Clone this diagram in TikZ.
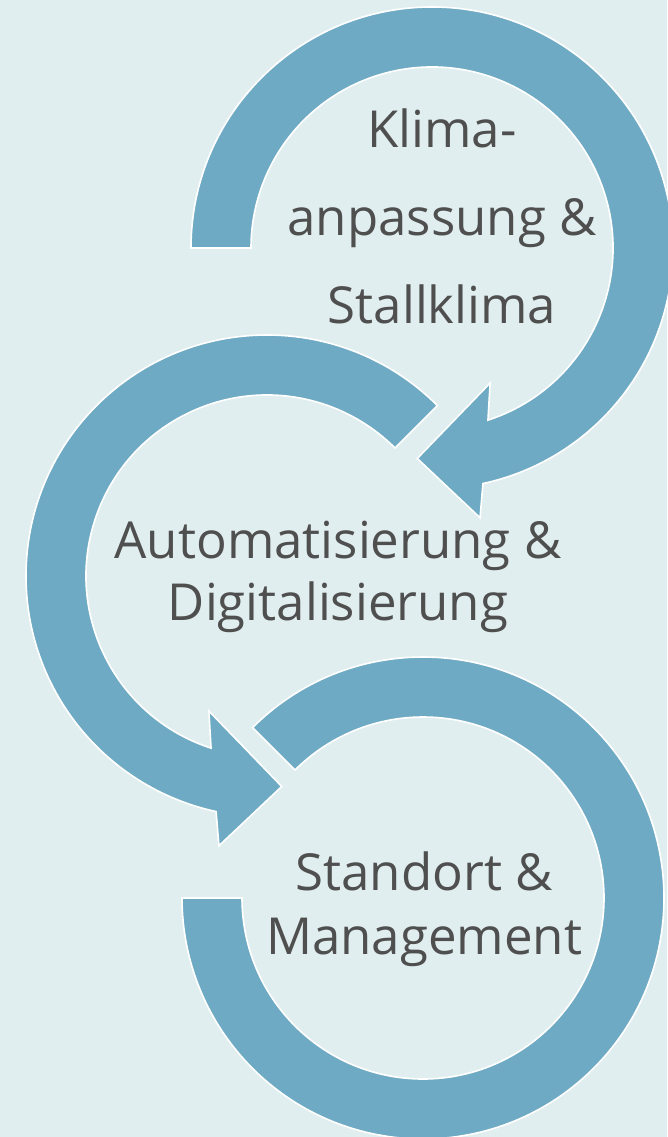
\documentclass[tikz,border=0pt]{standalone}
\usepackage{fontspec}
\setmainfont{Open Sans}
\usepackage{tikz}
\definecolor{paneblue}{HTML}{E1EEF0}
\definecolor{ringblue}{HTML}{6EAAC3}
\definecolor{textgray}{HTML}{4F4F4F}

\begin{document}
\begin{tikzpicture}[x=1pt, y=1pt,
    ring/.style = {fill=ringblue, draw=white, line width=1.6pt, line join=miter},
    caption/.style = {text=textgray, align=center, inner sep=0, anchor=base}]
  \fill[paneblue] (0, 0) rectangle (667, -1137);
  \useasboundingbox (0, 0) rectangle (667, -1137);

  % top arrow, clockwise with head at the bottom
  \begin{scope}[shift={(432, -248)}]
    \draw[ring] (180:241) arc[start angle=180, end angle=-77.8, radius=241]
      -- (-79.9:274) -- (-94:211) -- (-66.7:147) -- (-72:181)
      arc[start angle=-72, end angle=180, radius=181] -- cycle;
  \end{scope}

  % middle arrow, counter clockwise
  \begin{scope}[shift={(267, -576)}]
    \draw[ring] (45:241) arc[start angle=45, end angle=257.8, radius=241]
      -- (259.9:274) -- (274:211) -- (246.7:147) -- (252:181)
      arc[start angle=252, end angle=45, radius=181] -- cycle;
  \end{scope}

  % bottom ring, no head
  \begin{scope}[shift={(423, -898)}]
    \draw[ring] (135:241) arc[start angle=135, end angle=-180, radius=241]
      -- (180:181) arc[start angle=-180, end angle=135, radius=181] -- cycle;
  \end{scope}

  % base anchor sits on the last line
  \node[caption, font=\fontsize{51}{88}\selectfont] (klima) at (442, -323)
    {Klima-\\anpassung \&\\Stallklima};
  \node[caption, font=\fontsize{51}{62}\selectfont] (auto) at (338, -620)
    {Automatisierung \&\\Digitalisierung};
  \node[caption, font=\fontsize{51}{64}\selectfont] (standort) at (424, -954)
    {Standort \&\\Management};
\end{tikzpicture}
\end{document}
